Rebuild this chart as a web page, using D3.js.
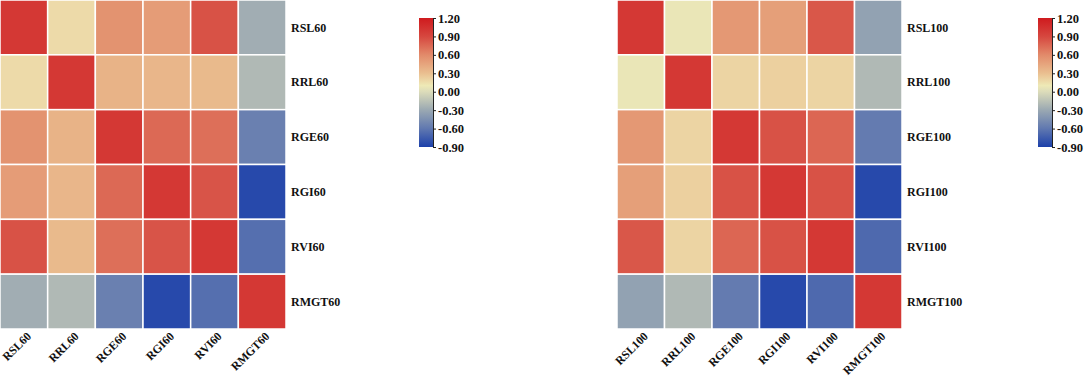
<!DOCTYPE html>
<html>
<head>
<meta charset="utf-8">
<script src="https://cdn.jsdelivr.net/npm/d3@7"></script>
<style>
  body { margin: 0; background: #fff; }
  svg text { font-family: "Liberation Serif", "Times New Roman", serif; font-weight: bold; fill: #111; }
</style>
</head>
<body>
<div id="chart"></div>
<script>
// variable names for the two panels
var names60 = ["RSL60", "RRL60", "RGE60", "RGI60", "RVI60", "RMGT60"];
var names100 = ["RSL100", "RRL100", "RGE100", "RGI100", "RVI100", "RMGT100"];

// correlation matrices
var corr60 = [
  [1.00, 0.17, 0.55, 0.50, 0.85, -0.27],
  [0.17, 1.00, 0.37, 0.35, 0.33, -0.20],
  [0.55, 0.37, 1.00, 0.75, 0.72, -0.55],
  [0.50, 0.35, 0.75, 1.00, 0.84, -0.85],
  [0.85, 0.33, 0.72, 0.84, 1.00, -0.65],
  [-0.27, -0.20, -0.55, -0.85, -0.65, 1.00]
];
var corr100 = [
  [1.00, 0.08, 0.52, 0.48, 0.83, -0.34],
  [0.08, 1.00, 0.20, 0.22, 0.20, -0.20],
  [0.52, 0.20, 1.00, 0.85, 0.76, -0.58],
  [0.48, 0.22, 0.85, 1.00, 0.85, -0.85],
  [0.83, 0.20, 0.76, 0.85, 1.00, -0.68],
  [-0.34, -0.20, -0.58, -0.85, -0.68, 1.00]
];

var colorTicks = [1.2, 0.9, 0.6, 0.3, 0.0, -0.3, -0.6, -0.9];
var stopDomain = [-0.9, -0.6, -0.3, 0.0, 0.1, 0.3, 0.6, 0.9, 1.2];
var colorStops = ["#1c40aa", "#6078b0", "#9aa8b2", "#dcdcba", "#eee9b6", "#eabf90", "#e28a6a", "#d6473f", "#cf1a1e"];
var vmin = -0.9, vmax = 1.2;

var W = 1084, H = 377;
var svg = d3.select("#chart").append("svg").attr("width", W).attr("height", H);

var color = d3.scaleLinear().domain(stopDomain).range(colorStops).interpolate(d3.interpolateRgb).clamp(true);

function fmt(v) {
  return d3.format(".2f")(v).replace("\u2212", "-");
}

function drawPanel(x0, w, names, corr, cbX) {
  var g = svg.append("g");
  var x = d3.scaleBand().domain(names).range([x0, x0 + w]);
  var y = d3.scaleBand().domain(names).range([0, 329]);

  var cells = [];
  corr.forEach(function(row, i) {
    row.forEach(function(v, j) { cells.push({r: names[i], c: names[j], v: v}); });
  });

  g.selectAll("rect.cell").data(cells).enter().append("rect")
    .attr("class", "cell")
    .attr("x", function(d) { return x(d.c); })
    .attr("y", function(d) { return y(d.r); })
    .attr("width", x.bandwidth())
    .attr("height", y.bandwidth())
    .attr("fill", function(d) { return color(d.v); })
    .attr("stroke", "#fff")
    .attr("stroke-width", 1.5);

  // row labels on the right
  g.selectAll("text.row").data(names).enter().append("text")
    .attr("class", "row")
    .attr("x", x0 + w + 5)
    .attr("y", function(d) { return y(d) + y.bandwidth() / 2; })
    .attr("dy", "0.35em")
    .style("font-size", "12px")
    .text(function(d) { return d; });

  // column labels, rotated
  g.selectAll("text.col").data(names).enter().append("text")
    .attr("class", "col")
    .attr("transform", function(d) {
      return "translate(" + (x(d) + x.bandwidth() / 2 + 8) + "," + 337 + ") rotate(-45)";
    })
    .style("text-anchor", "end")
    .style("font-size", "11.8px")
    .text(function(d) { return d; });

  // colour bar
  var cbTop = 18, cbBot = 147, cbW = 14;
  var gradId = "grad" + x0;
  var grad = svg.append("defs").append("linearGradient")
    .attr("id", gradId).attr("x1", "0").attr("y1", "1").attr("x2", "0").attr("y2", "0");
  stopDomain.forEach(function(v, i) {
    grad.append("stop")
      .attr("offset", ((v - vmin) / (vmax - vmin) * 100) + "%")
      .attr("stop-color", colorStops[i]);
  });
  g.append("rect")
    .attr("x", cbX).attr("y", cbTop).attr("width", cbW).attr("height", cbBot - cbTop)
    .attr("fill", "url(#" + gradId + ")");

  var cy = d3.scaleLinear().domain([vmin, vmax]).range([cbBot, cbTop]);
  var axis = g.append("g")
    .attr("transform", "translate(" + (cbX + cbW) + ",0)")
    .attr("font-family", null)
    .call(d3.axisRight(cy).tickValues(colorTicks).tickFormat(fmt).tickSize(3).tickPadding(2));
  axis.select(".domain").attr("stroke", "#222");
  axis.selectAll(".tick line").attr("stroke", "#222");
  axis.selectAll("text")
    .attr("fill", "#111")
    .style("font-size", "12.5px")
    .style("font-family", "'Liberation Serif', serif")
    .style("font-weight", "bold");
}

drawPanel(0, 286, names60, corr60, 419);
drawPanel(617, 285, names100, corr100, 1038);
</script>
</body>
</html>
